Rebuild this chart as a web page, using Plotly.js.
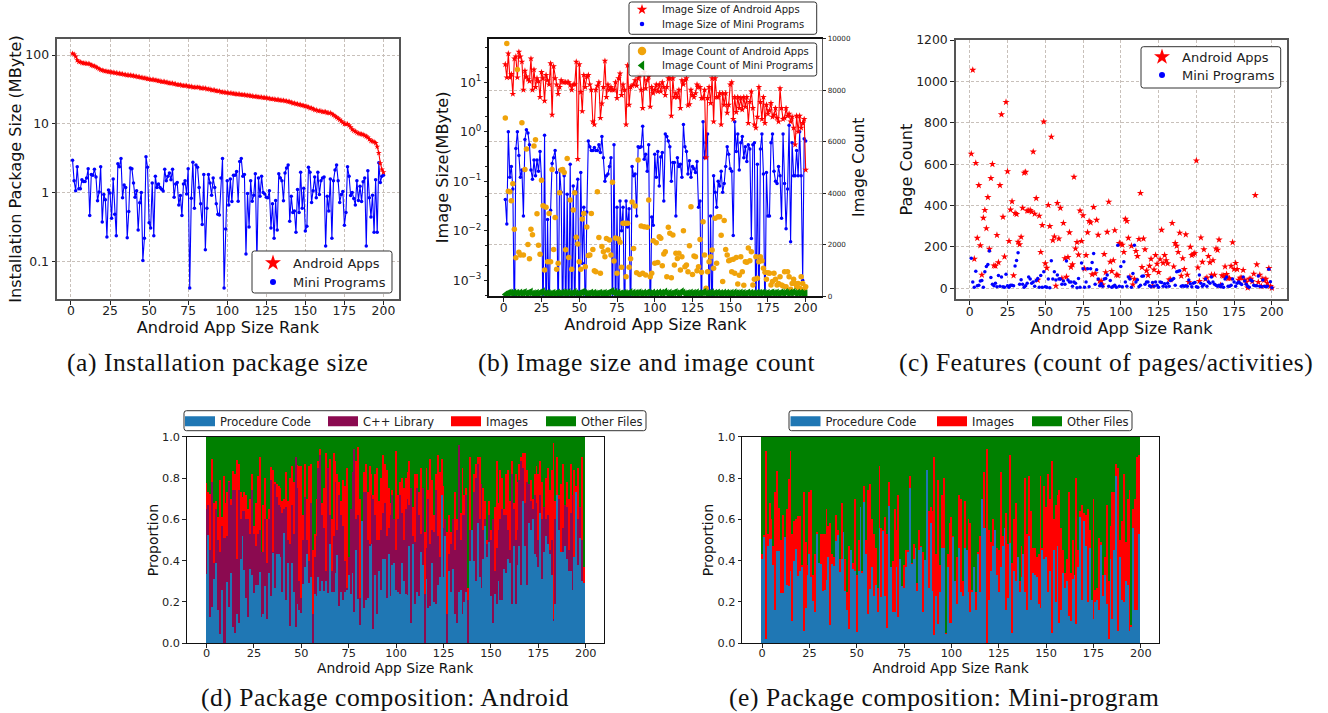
<!DOCTYPE html>
<html><head><meta charset="utf-8">
<script src="https://cdn.plot.ly/plotly-3.0.1.min.js"></script>
<style>html,body{margin:0;padding:0;background:#fff;overflow:hidden;height:713px}#c{width:1328px;height:733px;margin-top:-20px}.annotation-text{letter-spacing:.55px}</style>
</head><body><div id="c"></div>
<script>
const androidInstall=[105,102,95,84,80,79,77,76,76,75,
75,74,71,70,69,67,65,63,61,60,
59,58,58,57,57,56,56,55,55,54,
54,53,53,52,52,51,51,51,50,50,
49,49,48,48,47,47,46,46,45,45,
44,44,44,43,43,42,42,41,41,41,
40,40,39,39,39,38,38,37,37,37,
36,36,36,36,35,35,35,34,34,34,
34,34,33,33,33,33,32,32,32,31,
31,31,30,30,30,29,29,29,28.5,28.5,
28,28,28,27.5,27.5,27,27,27,26.5,26.5,
26.5,26,26,26,25.5,25.5,25,25,25,24.5,
24.5,24.5,24,24,24,23.5,23.5,23,23,23,
22.5,22.5,22.5,22,22,22,21.5,21.5,21,21,
20.5,20,20,19.5,19.5,19,19,18.5,18.5,18,
18,17.5,17,17,16.5,16,16,15.5,15.5,15.5,
15,15,15,14.5,14.5,14.5,14,13.5,13,12.5,
12,11.5,11,10.5,10,10,10,9.5,9,8.3,
8,7.8,7.5,7.3,7.2,7.1,7,6.8,6.6,6.4,
6,5.7,5.6,5.5,5.3,4.7,3.8,2.7,2.2,2];
const miniInstall=[2.98,1.5,1.08,2.4,1.15,1.15,1.55,1.47,1.47,1.65,
2.25,.47,1.85,1.8,2.2,1.7,.77,1.03,2.4,.38,
.95,.8,.23,1.1,1,.43,1.6,.49,.24,2.65,
2.4,3.15,.85,1.3,1.2,.225,.54,2.3,2.25,1.4,
.87,1.08,.29,.72,1.02,.105,.22,3.35,2.35,.37,
.31,1.4,.24,1.75,1.2,1.35,1.2,1.13,1.07,2.2,
1.5,1.75,1.95,1.55,2.2,.87,1.35,1.42,.67,.92,
.47,1.35,1.5,.97,2.25,.042,.84,2.8,.6,2.55,
2.35,1.2,.7,.35,1.85,.15,.6,1.85,1.4,.93,
1.65,1.2,.7,.49,.48,1.65,3.15,.042,.3,1.5,
.67,1.6,.75,1.8,1.8,2.05,.76,2.85,3.15,1.75,
1.85,.13,.98,.32,1.5,.76,.93,1.9,.1,1.65,
.9,1.75,1.02,.97,.87,.85,1.08,.31,.7,.22,
.78,.29,1.9,1.65,1.5,.77,1.95,2.3,2.55,.39,
.9,.52,.55,.27,1.12,.52,2,.6,1.17,.28,
.33,2.35,2,.73,1.08,1.7,.85,2,.95,1.5,
1.65,1.7,.17,.9,.55,1.6,.22,1.5,2.15,2.55,
1.5,.73,.95,1.05,.34,.52,2.4,1.75,.92,1.02,
.83,.67,1.5,.78,1.25,.75,1.45,1.65,.17,2.1,
.85,.45,.93,.27,1.55,.27,2.75,1.42,1.75,1.8];
const L=1e-4;
const androidImage=[23,12.5,38,12.5,14.6,5.8,30,33,12.5,41,
33,26,7,17,13,11.5,10.5,30,7,18,
8,12,10.5,5,16,12,4.2,14,11,9,
24,2.2,21,12,9,5.8,8,11,10,10,
10,10,10,8.7,7,9,9,26,.28,23,
6.3,2.6,14,8,13,14,9,7,1.6,1.4,
7,8.5,10,1.9,3.7,8,27,5,9,7,
8,7,7,10,4.8,12,15,5.5,9,7,
1.4,22,3.5,8,8.5,9,11,8.5,12,14,
7,3,16,7.5,11,13,3.2,8,6,7,
9,6.5,9,6.5,10,8,5.5,8,12,12,
2.1,12,5,6,5,7,3,11,9,11,
12,3.4,3.6,7,5.5,5,6,9,8,8,
4.8,4.8,7,.3,4.8,8,3.8,12,1.6,12,
5,5,6,1.4,6,3.5,6,2.4,3.5,9,
10,1.8,5,2.5,5,3,4.8,2.8,5,3.2,
5,1.5,4,6.5,3,1.4,1.2,2,8,4,
1.8,5,1.5,3.5,2.3,2.7,3.8,2,2.2,3,
1.9,1.6,7.5,3,1.8,1.9,3,2.1,2.3,1.6,
2,1.2,.55,2.1,1,2.1,1.2,1.5,1.8,.17];
const miniImage=[.043,.0137,1,.12,.2,.07,L,.46,1,.33,
.12,.17,.02,.7,1.1,.95,.55,.17,.11,.27,
.13,.27,.16,.4,.11,L,.85,L,.017,L,
.026,.23,.3,.42,.15,L,.17,.06,L,.13,
L,.055,L,.22,L,.08,L,.06,.11,L,
.15,.0022,.03,L,.024,.65,.5,.42,.42,.48,
.42,.42,.55,.38,.8,.3,.1,.13,.14,.2,
.3,L,.55,L,.03,L,.04,.01,.03,L,
.04,.012,.028,L,.2,.13,.14,.02,.5,.48,
.5,1.3,.28,.35,.16,.55,L,.019,.013,.35,
.12,.4,.08,.31,.38,.04,.9,.8,.65,.5,
.1,.24,.24,.02,.3,.2,.22,.12,1.4,.5,
.4,.14,.26,.12,.2,.18,.15,.25,.03,.04,
L,1.6,.3,.6,.9,L,.02,L,.13,.06,
.03,.1,.08,.16,.06,.09,.2,.5,.35,.18,
.16,.008,1.6,.4,.9,.17,.6,.8,.3,.5,
.25,.55,.45,.007,.55,.6,L,.22,L,.45,
.9,.14,L,.15,.02,.02,.6,.9,.16,.1,
.09,.2,.13,.018,.9,.09,.011,.07,1.35,.006,
.6,.13,.13,.42,.13,1,.13,.001,.72,.65];
const androidCount=[6917,9818,4067,4050,3700,4365,2590,1490,8800,1700,
1590,6735,1590,4920,5710,2000,1450,2590,2380,5830,
6075,3200,1970,1620,4500,3510,1010,3445,1330,3210,
1330,4920,1810,3050,1040,1270,4015,4900,4920,4800,
1800,5340,1500,3730,1040,3340,4015,2280,2020,1330,
1040,2990,3210,1140,2680,1570,1590,3210,1810,984,
945,4050,2270,880,1920,1720,1530,2230,1790,2180,
1590,4420,1360,2250,880,2215,2085,1115,2825,2825,
750,2825,1115,1450,3650,1850,3500,900,5285,840,
2720,880,2690,815,2670,3730,750,880,2150,1270,
2070,1300,2300,2240,1180,1630,1720,750,2670,2435,
712,2370,1200,1660,1460,1660,1010,1530,2540,1140,
1200,945,1955,3470,840,1550,1530,985,1140,2200,
920,2890,1590,300,945,1330,1530,1790,1075,3020,
1270,3080,3080,2360,560,2930,1810,1590,1370,1400,
945,1425,880,1500,466,803,1530,945,415,1330,
1310,1865,1370,1720,430,648,1530,686,1330,1530,
1370,1075,920,650,905,880,430,560,880,650,
430,490,750,430,390,945,360,945,750,260,
490,650,490,360,490,300,750,490,260,360];
const miniCount=[60,90,110,130,120,100,140,110,125,95,
130,105,120,150,100,115,135,170,90,110,
100,120,85,130,140,180,110,95,120,105,
85,100,125,90,115,130,105,95,140,120,
135,100,150,110,90,125,160,105,85,95,
120,140,170,115,100,90,110,130,95,120,
100,85,110,125,95,105,120,90,115,130,
175,190,120,160,100,135,85,110,95,125,
105,90,115,150,100,130,95,120,110,140,
105,85,130,100,125,145,110,95,135,90,
120,100,140,110,125,95,170,115,100,130,
90,105,125,150,110,95,120,180,130,100,
90,115,105,135,95,120,110,140,85,125,
100,130,160,105,95,120,110,145,90,125,
105,135,100,115,90,130,95,120,110,100,
125,90,140,105,115,95,130,100,120,85,
110,135,100,125,95,115,90,130,105,120,
95,140,110,100,125,90,120,135,105,115,
130,95,110,140,120,100,150,125,90,135,
110,160,120,100,130,95,125,110,90,105];
const androidPages=[650,1055,142,605,243,498,207,65,340,378,
290,440,190,532,600,110,108,257,125,498,
840,345,153,900,565,228,380,420,62,363,
358,224,212,248,388,558,562,375,375,378,
370,660,360,435,40,350,175,305,805,120,
98,402,300,732,232,250,12,412,240,388,
48,315,145,55,150,270,103,115,538,192,
223,162,375,228,352,95,160,270,325,318,
67,392,72,330,258,35,35,18,165,77,
272,418,128,83,135,280,65,63,218,215,
210,175,335,325,243,55,205,18,45,180,
155,238,460,102,240,188,85,63,108,142,
12,90,160,118,78,140,282,122,160,135,
120,42,43,315,105,218,205,175,268,60,
145,92,260,65,30,200,160,165,170,617,
100,35,245,127,188,45,52,155,125,65,
135,65,192,185,235,15,62,60,105,68,
48,48,108,222,93,122,92,40,50,50,
88,40,30,3,45,45,33,70,450,115,
30,65,10,45,40,45,25,97,10,2];
const miniPages=[145,30,5,82,12,15,35,38,5,80,
105,115,180,52,20,12,25,8,62,10,
55,8,5,68,12,5,15,15,12,108,
135,172,20,42,20,5,12,25,55,45,
25,30,10,38,48,5,62,5,80,8,
5,45,3,133,45,80,40,65,45,45,
20,35,20,132,40,30,30,10,30,25,
3,48,5,122,95,5,30,95,8,95,
125,168,20,90,45,12,22,10,45,48,
65,10,38,5,10,15,5,208,10,105,
8,128,30,10,55,45,5,72,208,30,
42,8,15,58,60,20,30,30,12,8,
28,10,30,15,5,30,28,10,22,8,
25,10,38,42,48,15,80,82,85,10,
12,10,12,10,40,22,8,25,28,8,
5,65,25,10,18,45,10,32,25,55,
30,20,15,10,15,8,20,5,45,55,
10,10,15,45,30,10,25,30,25,18,
55,35,20,10,5,40,35,15,12,12,
60,10,8,40,10,8,10,92,32,3];
const procD=[.335,.525,.125,.175,.31,.39,.16,.045,.26,0,
0,.295,.175,.34,.08,.05,.14,.1,.41,.52,
.355,.22,.125,.36,.33,.245,.28,.28,.345,.125,
.14,.275,.12,.34,.23,.435,.27,.43,.43,.42,
.25,.535,.21,.39,.085,.39,.25,.08,.19,.16,
.145,.285,.37,.43,.29,.32,0,.24,.23,.32,
.255,.3,.255,.3,.245,.48,.25,.25,.34,.425,
.18,.25,.21,.25,.26,.33,.24,.34,.15,.45,
.215,.09,.59,.17,.21,.22,.47,.48,.07,.33,
.14,.35,.26,.41,.41,.22,.43,.23,.38,.39,
.26,.25,.24,.39,.3,.24,.235,.47,.1,.48,
.19,.25,.23,.44,.38,0,.31,.17,.18,.39,
.2,.19,.28,.32,.72,.32,.52,0,.35,.25,
.36,.14,.1,.25,.26,.14,.2,.25,0,.4,
.55,.4,.3,.58,.32,.27,.41,.57,.42,.49,
.23,.1,.24,.19,.3,.21,.21,.36,.34,.41,
.39,.19,.47,.19,.38,.47,.28,.69,.47,.28,
.58,.55,.6,.43,.42,.37,.63,.31,.44,.52,
.48,.43,.33,.11,.19,.72,.55,.44,.44,.47,
.41,.35,.35,.26,.42,.73,.38,.51,.3,.29];
const cppTopD=[.65,.67,.45,.78,.39,.65,.5,.44,.57,.51,
.51,.52,.78,.67,.74,.74,.41,.74,.6,.64,
.64,.6,.6,.53,.74,.53,.47,.53,.55,.44,
.44,.6,.39,.6,.79,.44,.77,.71,.67,.66,
.63,.65,.66,.5,.48,.67,.53,.9,.75,.3,
.22,.5,.71,.5,.4,.68,.14,.42,.52,.85,
.91,.62,.56,.35,.85,.62,.35,.52,.78,.55,
.72,.62,.57,.4,.27,.42,.65,.83,.94,.6,
.62,.22,.37,.73,.73,.5,.48,.72,.7,.62,
.5,.5,.55,.63,.68,.52,.56,.62,.72,.6,
.45,.6,.72,.63,.5,.65,.7,.67,.75,.52,
.49,.75,.62,.53,.75,.24,.46,.7,.48,.55,
.54,.74,.52,.42,.72,.56,.6,.14,.43,.48,
.6,.45,.55,.96,.5,.62,.62,.72,.21,.55,
.55,.73,.8,.87,.6,.77,.55,.6,.48,.62,
.5,.6,.35,.46,.55,.6,.65,.62,.62,.55,
.45,.82,.65,.5,.55,.79,.88,.85,.68,.78,
.77,.69,.65,.72,.68,.5,.72,.6,.66,.6,
.62,.45,.5,.12,.6,.72,.7,.44,.56,.67,
.66,.45,.63,.72,.35,.73,.6,.66,.5,.29];
const imgTopD=[.775,.73,.725,.89,.68,.69,.61,.79,.61,.81,
.68,.73,.785,.7,.835,.82,.885,.87,.73,.71,
.73,.72,.65,.7,.82,.57,.68,.81,.9,.44,
.67,.8,.6,.65,.855,.84,.78,.77,.76,.75,
.69,.7,.83,.69,.8,.86,.78,.9,.865,.86,
.86,.62,.87,.7,.86,.87,.45,.53,.7,.88,
.94,.68,.75,.92,.75,.89,.6,.92,.88,.82,
.78,.69,.79,.76,.85,.27,.56,.83,.89,.88,
.95,.7,.38,.83,.87,.73,.86,.82,.72,.82,
.85,.69,.8,.91,.87,.84,.75,.68,.74,.6,
.93,.72,.78,.8,.75,.8,.83,.88,.75,.66,
.82,.82,.73,.85,.75,.54,.85,.74,.89,.79,
.62,.82,.91,.83,.89,.76,.56,.54,.62,.54,
.53,.73,.6,.96,.63,.85,.72,.75,.27,.9,
.55,.82,.87,.9,.9,.71,.75,.69,.5,.69,
.55,.35,.66,.88,.68,.84,.8,.65,.82,.84,
.69,.88,.68,.82,.78,.87,.9,.92,.92,.84,
.76,.79,.7,.82,.86,.82,.88,.78,.66,.8,
.85,.74,.84,.97,.69,.9,.72,.77,.87,.62,
.78,.7,.87,.72,.84,.76,.85,.66,.9,.37];
const procE=[.41,.515,.02,.47,.505,.505,.38,.16,.445,.445,
.245,.245,.515,.28,.275,.35,.11,.4,.455,.325,
.35,.37,.06,.17,.33,.43,.32,.205,.15,.53,
.39,.385,.255,.26,.305,.42,.09,.385,.375,.495,
.525,.345,.41,.54,.255,.16,.07,.45,.36,.35,
.055,.35,.66,.34,.685,.43,.14,.265,.37,.23,
.28,.15,.56,.225,.545,.23,.075,.665,.37,.15,
.15,.37,.125,.41,.275,.27,.37,.44,.75,.385,
.41,.46,.255,.45,.465,.15,.405,.84,.27,.58,
.255,.04,.23,.095,.25,.46,.46,.045,.37,.1,
.1,.515,.3,.19,.46,.25,.23,.46,.45,.25,
.15,.25,.37,.16,.43,.25,.7,.56,.56,0,
.21,.35,.47,.55,.33,.25,.37,.47,.56,.16,
.22,.485,.05,.35,.3,.42,.25,.32,.43,.25,
.16,.52,.21,.34,.33,.32,.19,.17,.45,.41,
.42,.25,.35,.05,.45,.2,.47,.1,.16,.34,
.27,.3,.13,.11,.31,.33,.095,.37,.61,.21,
.59,.47,.2,.46,.21,.12,.2,.21,.16,.475,
.23,.33,.19,.02,.41,.12,.45,.81,.06,.42,
.21,.2,.3,.28,.06,.08,.56,.16,.16,.53];
const imgTopE=[.43,.525,.93,.53,.68,.6,.47,.73,.835,.655,
.5,.62,.5,.65,.795,.93,.53,.59,.6,.615,
.615,.38,.73,.49,.38,.73,.74,.33,.43,.54,
.39,.53,.53,.53,.65,.57,.58,.43,.42,.62,
.55,.41,.68,.54,.41,.25,.47,.45,.39,.7,
.33,.5,.66,.35,.76,.5,.74,.77,.6,.53,
.46,.27,.86,.56,.55,.61,.53,.78,.37,.4,
.65,.55,.72,.41,.27,.38,.45,.45,.81,.39,
.48,.46,.29,.55,.47,.44,.405,.84,.64,.66,
.64,.9,.43,.79,.38,.72,.8,.05,.43,.58,
.61,.52,.3,.42,.72,.7,.3,.69,.45,.6,
.58,.26,.37,.25,.44,.52,.7,.83,.25,.94,
.55,.49,.6,.55,.46,.45,.83,.52,.56,.63,
.48,.91,.39,.6,.68,.42,.3,.47,.43,.8,
.53,.81,.64,.46,.46,.42,.43,.81,.46,.76,
.66,.82,.7,.88,.6,.67,.72,.74,.56,.45,
.34,.41,.73,.34,.5,.33,.8,.45,.64,.67,
.63,.62,.65,.55,.21,.7,.26,.27,.51,.49,
.33,.42,.67,.3,.57,.73,.73,.87,.85,.5,
.59,.82,.49,.7,.74,.09,.65,.7,.9,.91];
const rankTicks=[0,25,50,75,100,125,150,175,200];
const captions=["(a) Installation package size","(b) Image size and image count","(c) Features (count of pages/activities)","(d) Package composition: Android","(e) Package composition: Mini-program"];
const W=1328,OFF=20,H=733,fs='"DejaVu Sans",sans-serif';
const px=x=>x/W, py=y=>1-(y+OFF)/H;
const dx=(a,b)=>[a/W,b/W], dy=(t,b)=>[py(b),py(t)];
const ranks=a=>a.map((_,i)=>i+1), idx=a=>a.map((_,i)=>i);
const ones=procD.map(()=>1);
const grid={showgrid:true,gridcolor:'#c8c0ba',griddash:'3px,2px',gridwidth:1};
const frame=(c,w)=>({showline:true,mirror:true,linecolor:c,linewidth:w,zeroline:false,showgrid:false,ticks:'outside',ticklen:3.5,tickwidth:1,tickcolor:'#222',ticklabelstandoff:-4,automargin:false});
const yframe=(c,w)=>Object.assign(frame(c,w),{ticklabelstandoff:0});
const ttl=(t,s,sd)=>({text:t,font:{size:s,family:fs,color:'#111'},standoff:sd});
const tf=s=>({size:s,family:fs,color:'#222'});
const layout={width:W,height:H,margin:{l:0,r:0,t:0,b:0,pad:0},autosize:false,paper_bgcolor:'#fff',plot_bgcolor:'#fff',showlegend:true,barmode:'overlay',bargap:0,
 xaxis:Object.assign({domain:dx(57,399),anchor:'y',range:[-8.95,209.95],tickvals:rankTicks,tickfont:tf(12.4),title:ttl('Android App Size Rank',16.1,0)},frame('#555',2),grid),
 yaxis:Object.assign({domain:dy(39,299),anchor:'x',type:'log',range:[-1.537,2.232],tickvals:[.1,1,10,100],ticktext:['0.1','1','10','100'],tickfont:tf(12.4),title:ttl('Installation Package Size (MByte)',16.1,0)},yframe('#555',2),grid),
 xaxis2:Object.assign({domain:dx(489.3,821.7),anchor:'y2',range:[-9.6,210.6],tickvals:rankTicks,tickfont:tf(12.4),title:ttl('Android App Size Rank',16.1,0)},frame('#111',2)),
 yaxis2:Object.assign({domain:dy(38.7,296),anchor:'x2',type:'log',range:[-3.317,1.88],tickvals:[.001,.01,.1,1,10],ticktext:['10<sup>−3</sup>','10<sup>−2</sup>','10<sup>−1</sup>','10<sup>0</sup>','10<sup>1</sup>'],tickfont:tf(12.4),title:ttl('Image Size(MByte)',16.1,0),minor:{ticks:'outside',ticklen:2,tickwidth:1,tickcolor:'#222',showgrid:false}},yframe('#111',2),{mirror:false}),
 yaxis3:{domain:dy(38.7,296),anchor:'x2',overlaying:'y2',side:'right',range:[0,10000],tickvals:[0,2000,4000,6000,8000,10000],tickformat:'d',tickfont:tf(7.2),ticks:'outside',ticklen:3.5,tickcolor:'#222',showline:true,linecolor:'#555',linewidth:1,zeroline:false,gridcolor:'#c8c0ba',griddash:'3px,2px',showgrid:true,automargin:false,title:ttl('Image Count',15.5,3)},
 xaxis3:Object.assign({domain:dx(955.7,1287),anchor:'y4',range:[-9.3,210],tickvals:rankTicks,tickfont:tf(12.4),title:ttl('Android App Size Rank',16.1,0)},frame('#555',2),grid),
 yaxis4:Object.assign({domain:dy(40,299.3),anchor:'x3',range:[-53,1200],tickvals:[0,200,400,600,800,1000,1200],tickfont:tf(12.4),title:ttl('Page Count',16.1,0)},yframe('#555',2),grid),
 xaxis4:Object.assign({domain:dx(186.7,603.7),anchor:'y5',range:[-10.45,209.45],tickvals:rankTicks,tickfont:tf(11.3),title:ttl('Android App Size Rank',13.8,0)},frame('#111',1)),
 yaxis5:Object.assign({domain:dy(436.7,643.3),anchor:'x4',range:[0,1],dtick:.2,tickformat:'.1f',tickfont:tf(11.3),title:ttl('Proportion',14,0)},yframe('#111',1)),
 xaxis5:Object.assign({domain:dx(742.3,1158.7),anchor:'y6',range:[-10.45,209.45],tickvals:rankTicks,tickfont:tf(11.3),title:ttl('Android App Size Rank',13.8,0)},frame('#111',1)),
 yaxis6:Object.assign({domain:dy(436.7,643.3),anchor:'x5',range:[0,1],dtick:.2,tickformat:'.1f',tickfont:tf(11.3),title:ttl('Proportion',14,0)},yframe('#111',1)),
 shapes:[],annotations:[]};
function box(x0,y0,x1,y1,op){const r=2.5,X=v=>px(v).toFixed(5),Y=v=>py(v).toFixed(5);
 layout.shapes.push({type:'path',xref:'paper',yref:'paper',layer:'above',fillcolor:'rgba(255,255,255,'+(op||1)+')',line:{color:'#333',width:1},
 path:`M${X(x0+r)},${Y(y0)} L${X(x1-r)},${Y(y0)} Q${X(x1)},${Y(y0)} ${X(x1)},${Y(y0+r)} L${X(x1)},${Y(y1-r)} Q${X(x1)},${Y(y1)} ${X(x1-r)},${Y(y1)} L${X(x0+r)},${Y(y1)} Q${X(x0)},${Y(y1)} ${X(x0)},${Y(y1-r)} L${X(x0)},${Y(y0+r)} Q${X(x0)},${Y(y0)} ${X(x0+r)},${Y(y0)} Z`});}
let legN=0;
function leg(x,y,size){legN++;const id=legN===1?'legend':'legend'+legN;layout[id]={x:px(x),y:py(y),xanchor:'left',yanchor:'top',bgcolor:'rgba(0,0,0,0)',borderwidth:0,font:{size:size,family:fs,color:'#222'},itemclick:false,itemdoubleclick:false};return id;}
const T=[];
const key=(name,xa,ya,lg,sym,col,sz)=>T.push({x:[null],y:[null],xaxis:xa,yaxis:ya,legend:lg,name,mode:'markers',marker:{symbol:sym,color:col,size:sz}});
const sw=(name,xa,ya,lg,col)=>T.push({x:[null],y:[null],xaxis:xa,yaxis:ya,legend:lg,name,mode:'lines',line:{color:col,width:10}});
const line=(x,y,col,sym,sz,xa,ya)=>T.push({x,y,xaxis:xa,yaxis:ya,mode:'lines+markers',showlegend:false,line:{color:col,width:1.1},marker:{symbol:sym,color:col,size:sz},cliponaxis:true});
const dots=(x,y,col,sym,sz,xa,ya)=>T.push({x,y,xaxis:xa,yaxis:ya,mode:'markers',showlegend:false,marker:{symbol:sym,color:col,size:sz}});
const bars=(y,col,xa,ya)=>T.push({type:'bar',x:idx(y),y,xaxis:xa,yaxis:ya,width:1,showlegend:false,marker:{color:col,line:{width:0}}});
line(ranks(miniInstall),miniInstall,'#0000ff','circle',3.5,'x','y');
line(ranks(androidInstall),androidInstall,'#ff0000','star',4.5,'x','y');
line(ranks(miniImage),miniImage,'#0000ff','circle',3.5,'x2','y2');
line(ranks(androidImage),androidImage,'#ff0000','star',5,'x2','y2');
dots(ranks(androidCount),androidCount,'#f0a30a','circle',5.5,'x2','y3');
dots(ranks(miniCount),miniCount,'#008000','triangle-left',7,'x2','y3');
dots(ranks(androidPages),androidPages,'#ff0000','star',5.5,'x3','y4');
dots(ranks(miniPages),miniPages,'#0000ff','circle',3.5,'x3','y4');
bars(ones,'#008000','x4','y5');bars(imgTopD,'#ff0000','x4','y5');bars(cppTopD,'#8b0a50','x4','y5');bars(procD,'#1f77b4','x4','y5');
bars(ones,'#008000','x5','y6');bars(imgTopE,'#ff0000','x5','y6');bars(procE,'#1f77b4','x5','y6');
box(252,251,392,293);
key('Android Apps','x','y',leg(253,248,13),'star','#ff0000',12);
key('Mini Programs','x','y',leg(253,267,13),'circle','#0000ff',6);
box(629,2,816.7,34.3);
key('Image Size of Android Apps','x2','y2',leg(622,-5,10),'star','#ff0000',8);
key('Image Size of Mini Programs','x2','y2',leg(622,9.5,10),'circle','#0000ff',4.5);
box(629,43,816.7,76,.9);
key('Image Count of Android Apps','x2','y2',leg(622,36.5,10),'circle','#f0a30a',8.5);
key('Image Count of Mini Programs','x2','y2',leg(622,51,10),'triangle-left','#008000',8.5);
box(1141,46.7,1280.7,88);
key('Android Apps','x3','y4',leg(1142,42,13),'star','#ff0000',12);
key('Mini Programs','x3','y4',leg(1142,60,13),'circle','#0000ff',6);
box(184,410.7,646,430.7);
[['Procedure Code',180,'#1f77b4'],['C++ Library',323,'#8b0a50'],['Images',446,'#ff0000'],['Other Files',541,'#008000']].forEach(e=>sw(e[0],'x4','y5',leg(e[1],406.7,11.5),e[2]));
box(789,410.7,1132,430.7);
[['Procedure Code',785.5,'#1f77b4'],['Images',932,'#ff0000'],['Other Files',1027,'#008000']].forEach(e=>sw(e[0],'x5','y6',leg(e[1],406.7,11.5),e[2]));
[[217,362],[646.5,362],[1106,362],[385,697],[943.7,697]].forEach((p,i)=>layout.annotations.push({xref:'paper',yref:'paper',x:px(p[0]),y:py(p[1]),xanchor:'center',yanchor:'middle',showarrow:false,text:captions[i],font:{family:'"Liberation Serif",serif',size:25.5,color:'#111'}}));
Plotly.newPlot('c',T,layout,{displayModeBar:false,staticPlot:true});
</script></body></html>
